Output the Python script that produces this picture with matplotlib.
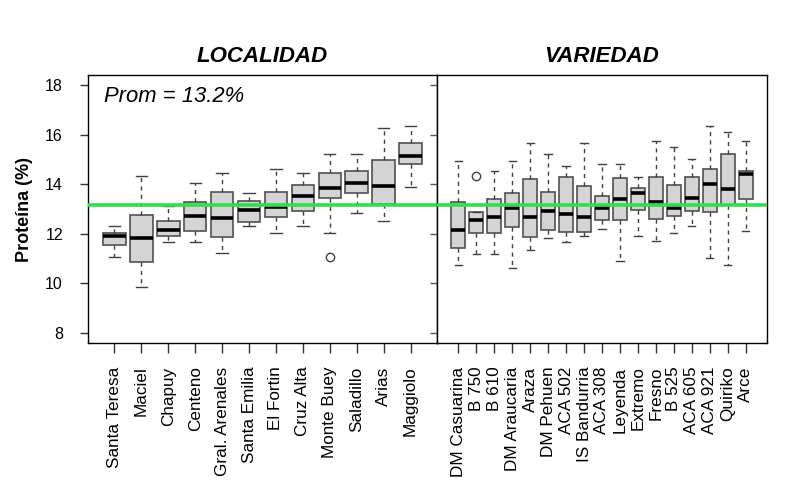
import matplotlib
matplotlib.use("Agg")
import matplotlib.pyplot as plt

plt.rcParams['font.family'] = ['Liberation Sans', 'DejaVu Sans']

# data
loc_names = ["Santa Teresa", "Maciel", "Chapuy", "Centeno", "Gral. Arenales",
             "Santa Emilia", "El Fortin", "Cruz Alta", "Monte Buey", "Saladillo",
             "Arias", "Maggiolo"]
loc_low = [11.07, 9.84, 11.67, 11.67, 11.24, 12.33, 12.04, 12.33, 12.04, 12.83, 12.51, 13.87]
loc_q1 = [11.53, 10.87, 11.93, 12.11, 11.87, 12.49, 12.67, 12.91, 13.43, 13.63, 13.20, 14.83]
loc_med = [11.93, 11.83, 12.16, 12.71, 12.64, 12.96, 13.07, 13.53, 13.83, 14.03, 13.93, 15.13]
loc_q3 = [12.04, 12.77, 12.51, 13.27, 13.67, 13.31, 13.69, 13.96, 14.44, 14.53, 14.97, 15.64]
loc_high = [12.33, 14.33, 13.13, 14.03, 14.47, 13.63, 14.63, 14.44, 15.20, 15.20, 16.27, 16.33]
loc_out = [[], [], [], [], [], [], [], [], [11.07], [], [], []]

var_names = ["DM Casuarina", "B 750", "B 610", "DM Araucaria", "Araza", "DM Pehuen",
             "ACA 502", "IS Bandurria", "ACA 308", "Leyenda", "Extremo", "Fresno",
             "B 525", "ACA 605", "ACA 921", "Quiriko", "Arce"]
var_low = [10.73, 11.20, 11.20, 10.63, 11.33, 11.83, 11.67, 11.91, 12.20, 10.91, 11.91,
           11.73, 12.04, 12.33, 11.04, 10.73, 12.11]
var_q1 = [11.43, 12.04, 12.03, 12.29, 11.87, 12.16, 12.07, 12.07, 12.56, 12.56, 12.96,
          12.60, 12.73, 12.93, 12.87, 13.16, 13.40]
var_med = [12.16, 12.57, 12.69, 13.03, 12.67, 12.93, 12.80, 12.67, 13.04, 13.40, 13.63,
           13.27, 13.03, 13.43, 14.00, 13.80, 14.40]
var_q3 = [13.29, 12.89, 13.40, 13.63, 14.20, 13.69, 14.29, 13.91, 13.51, 14.24, 13.84,
          14.29, 13.96, 14.29, 14.60, 15.20, 14.53]
var_high = [14.92, 12.89, 14.53, 14.92, 15.64, 15.20, 14.73, 15.64, 14.80, 14.80, 14.29,
            15.73, 15.51, 15.03, 16.33, 16.11, 15.73]
var_out = [[], [14.31], [], [], [], [], [], [], [], [], [], [], [], [], [], [], []]

prom = 13.16


def make_stats(names, low, q1, med, q3, high, out):
    stats = []
    for i in range(len(names)):
        stats.append(dict(label=names[i], whislo=low[i], q1=q1[i], med=med[i],
                          q3=q3[i], whishi=high[i], fliers=out[i]))
    return stats


def draw_panel(ax, stats, width):
    n = len(stats)
    ax.bxp(stats, positions=range(1, n + 1), widths=width, patch_artist=True,
           showfliers=True,
           boxprops=dict(facecolor="#d4d4d4", edgecolor="#505050", linewidth=1.2),
           medianprops=dict(color="black", linewidth=2.6, solid_capstyle="butt"),
           whiskerprops=dict(color="#404040", linewidth=1.0, linestyle=(0, (3, 3))),
           capprops=dict(color="#404040", linewidth=1.0),
           capwidths=width * 0.5,
           flierprops=dict(marker="o", markerfacecolor="none", markeredgecolor="#404040",
                           markersize=6, markeredgewidth=1.0))
    ax.axhline(prom, color="#2ee04a", linewidth=2.6, zorder=5)
    pad = 0.04 * n
    ax.set_xlim(0.5 - pad, n + 0.5 + pad)
    ax.set_ylim(7.6, 18.4)
    ax.set_xticks(range(1, n + 1))
    ax.set_xticklabels([s["label"] for s in stats], rotation=90, fontsize=12.3)
    ax.tick_params(axis="x", length=7, width=1, pad=10, color="#333333")
    for sp in ax.spines.values():
        sp.set_linewidth(1.0)


fig = plt.figure(figsize=(7.9, 4.88), dpi=100)
ax1 = fig.add_axes([88 / 790, 1 - 343 / 488, 349 / 790, 268 / 488])
ax2 = fig.add_axes([437 / 790, 1 - 343 / 488, 330 / 790, 268 / 488])

draw_panel(ax1, make_stats(loc_names, loc_low, loc_q1, loc_med, loc_q3, loc_high, loc_out), 0.84)
draw_panel(ax2, make_stats(var_names, var_low, var_q1, var_med, var_q3, var_high, var_out), 0.8)

ax1.set_yticks([8, 10, 12, 14, 16, 18])
ax1.tick_params(axis="y", length=6, width=1, labelsize=11.5, pad=12, color="#333333")
ax1.set_ylabel("Proteína (%)", fontsize=13, fontweight="bold", labelpad=9)
ax2.set_yticks([8, 10, 12, 14, 16, 18])
ax2.tick_params(axis="y", length=5, width=1, labelleft=False, color="#555555")

ax1.set_title("LOCALIDAD", fontsize=16, fontweight="bold", style="italic", pad=9)
ax2.set_title("VARIEDAD", fontsize=16, fontweight="bold", style="italic", pad=9)
ax1.text(0.045, 0.96, "Prom = 13.2%", transform=ax1.transAxes, fontsize=15.8,
         style="italic", va="top", ha="left")

fig.savefig("out.png", dpi=100)
